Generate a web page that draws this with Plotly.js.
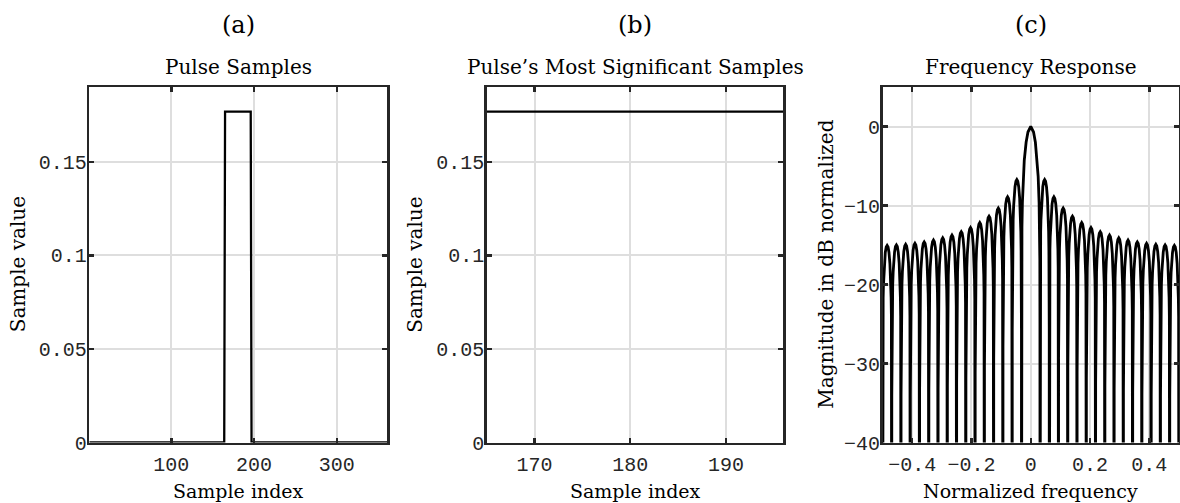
<!DOCTYPE html>
<html><head><meta charset="utf-8">
<script src="https://cdn.plot.ly/plotly-3.0.1.min.js"></script>
<style>html,body{margin:0;padding:0;background:#fff;}#chart{width:1180px;height:503px;}</style>
</head><body><div id="chart"></div>
<script>
// ---- Panel (a): pulse samples (breakpoints of the rectangular pulse)
const pulseIndex = [1, 164, 165, 196, 197, 361];
const pulseValue = [0, 0, 0.1768, 0.1768, 0, 0];

// ---- Panel (b): most significant samples
const significantIndex = [165, 196];
const significantValue = [0.1768, 0.1768];

// ---- Panel (c): frequency response, read lobe by lobe
// null frequencies bounding each lobe (left to right)
const lobeEdges = [-0.5, -0.46875, -0.4375, -0.40625, -0.375, -0.34375, -0.3125, -0.28125,
  -0.25, -0.21875, -0.1875, -0.15625, -0.125, -0.09375, -0.0625, -0.03125,
  0.03125, 0.0625, 0.09375, 0.125, 0.15625, 0.1875, 0.21875, 0.25,
  0.28125, 0.3125, 0.34375, 0.375, 0.40625, 0.4375, 0.46875, 0.5];
// peak level of each lobe (dB)
const lobePeakDb = [-15.05, -15.0, -14.92, -14.79, -14.61, -14.38, -14.1, -13.75,
  -13.32, -12.8, -12.16, -11.36, -10.33, -8.91, -6.72, 0,
  -6.72, -8.91, -10.33, -11.36, -12.16, -12.8, -13.32, -13.75,
  -14.1, -14.38, -14.61, -14.79, -14.92, -15.0, -15.05];
// lobe outline: fraction of lobe width from the null, level relative to the peak (dB)
const sideLobeFrac = [0, 0.004, 0.01, 0.02, 0.04, 0.07, 0.1, 0.15, 0.2, 0.3, 0.4, 0.5];
const sideLobeRel  = [-60, -19.0, -15.0, -12.0, -9.0, -6.6, -5.1, -3.4, -2.3, -0.9, -0.2, 0];
const mainLobeFrac = [0, 0.004, 0.01, 0.025, 0.05, 0.1, 0.15, 0.25, 0.35, 0.5];
const mainLobeRel  = [-60, -24.9, -16.9, -12.8, -9.6, -6.3, -4.3, -2.0, -0.7, 0];

// ---- tick labels
const aXTicks = [100, 200, 300];
const aYTicks = [0, 0.05, 0.1, 0.15];
const aYText = ['0', '0.05', '0.1', '0.15'];
const bXTicks = [170, 180, 190];
const cXTicks = [-0.4, -0.2, 0, 0.2, 0.4];
const cXText = ['\u22120.4', '\u22120.2', '0', '0.2', '0.4'];
const cYTicks = [-40, -30, -20, -10, 0];
const cYText = ['\u221240', '\u221230', '\u221220', '\u221210', '0'];

// build frequency response outline from the lobe tables
const freq = [], magDb = [];
for (let i = 0; i < lobePeakDb.length; i++) {
  const a = lobeEdges[i], b = lobeEdges[i + 1];
  const isMain = lobePeakDb[i] === 0;
  const fr = isMain ? mainLobeFrac : sideLobeFrac;
  const rl = isMain ? mainLobeRel : sideLobeRel;
  const ts = [], vs = [];
  for (let k = 0; k < fr.length; k++) { ts.push(fr[k]); vs.push(rl[k]); }
  for (let k = fr.length - 2; k >= 0; k--) { ts.push(1 - fr[k]); vs.push(rl[k]); }
  for (let k = (i === 0 ? 0 : 1); k < ts.length; k++) {
    freq.push(a + ts[k] * (b - a));
    magDb.push(lobePeakDb[i] + vs[k]);
  }
}

const W = 1180, H = 503;
const px = v => v / W, py = v => 1 - v / H;
const plotTop = 87, plotBottom = 442.5;
const panels = [[89.3, 387.3], [486.7, 783.3], [882.5, 1179]];

const axisBase = {
  showline: true, linewidth: 2.5, linecolor: '#262626', mirror: 'ticks',
  ticks: 'inside', ticklen: 5, tickwidth: 2.5, tickcolor: '#262626',
  showgrid: true, gridcolor: '#dedede', gridwidth: 2, zeroline: false,
  tickfont: {family: 'Liberation Mono', size: 20, color: '#262626'},
  fixedrange: true
};
function xa(i, extra) { return Object.assign({}, axisBase, {domain: [px(panels[i][0]), px(panels[i][1])], anchor: i === 0 ? 'y' : 'y' + (i + 1), tickmode: 'array', ticklabelstandoff: 2}, extra); }
function ya(i, extra) { return Object.assign({}, axisBase, {domain: [py(plotBottom), py(plotTop)], anchor: i === 0 ? 'x' : 'x' + (i + 1), tickmode: 'array', ticklabelstandoff: -4}, extra); }

const traces = [
  {x: pulseIndex, y: pulseValue, type: 'scatter', mode: 'lines', line: {color: '#000000', width: 2.3}, xaxis: 'x', yaxis: 'y', hoverinfo: 'skip'},
  {x: significantIndex, y: significantValue, type: 'scatter', mode: 'lines', line: {color: '#000000', width: 2.3}, xaxis: 'x2', yaxis: 'y2', hoverinfo: 'skip'},
  {x: freq, y: magDb, type: 'scatter', mode: 'lines', line: {color: '#000000', width: 2.8}, xaxis: 'x3', yaxis: 'y3', hoverinfo: 'skip'}
];

const serif = 'DejaVu Serif';
function ann(text, x, y, size, angle) {
  return {text: text, x: px(x), y: py(y), xref: 'paper', yref: 'paper', showarrow: false,
    xanchor: 'center', yanchor: 'middle', textangle: angle || 0,
    font: {family: serif, size: size, color: '#000000'}};
}
const cx = i => (panels[i][0] + panels[i][1]) / 2;
const cy = (plotTop + plotBottom) / 2;

const layout = {
  width: W, height: H, margin: {l: 0, r: 0, t: 0, b: 0},
  paper_bgcolor: '#ffffff', plot_bgcolor: '#ffffff', showlegend: false,
  xaxis: xa(0, {range: [1, 361], tickvals: aXTicks}),
  yaxis: ya(0, {range: [0, 0.19], tickvals: aYTicks, ticktext: aYText}),
  xaxis2: xa(1, {range: [165, 196], tickvals: bXTicks}),
  yaxis2: ya(1, {range: [0, 0.19], tickvals: aYTicks, ticktext: aYText}),
  xaxis3: xa(2, {range: [-0.5, 0.5], tickvals: cXTicks, ticktext: cXText}),
  yaxis3: ya(2, {range: [-40, 5], tickvals: cYTicks, ticktext: cYText}),
  annotations: [
    ann('(a)', cx(0), 25, 24), ann('(b)', cx(1), 25, 24), ann('(c)', cx(2), 25, 24),
    ann('Pulse Samples', cx(0), 67, 20),
    ann('Pulse\u2019s Most Significant Samples', cx(1), 67, 20),
    ann('Frequency Response', cx(2), 67, 20),
    ann('Sample index', cx(0), 491, 19),
    ann('Sample index', cx(1), 491, 19),
    ann('Normalized frequency', cx(2), 491, 19),
    ann('Sample value', 17.5, cy, 20, -90),
    ann('Sample value', 415, cy, 20, -90),
    ann('Magnitude in dB normalized', 826, cy, 20, -90)
  ]
};

Plotly.newPlot('chart', traces, layout, {displayModeBar: false, staticPlot: true});
</script></body></html>
